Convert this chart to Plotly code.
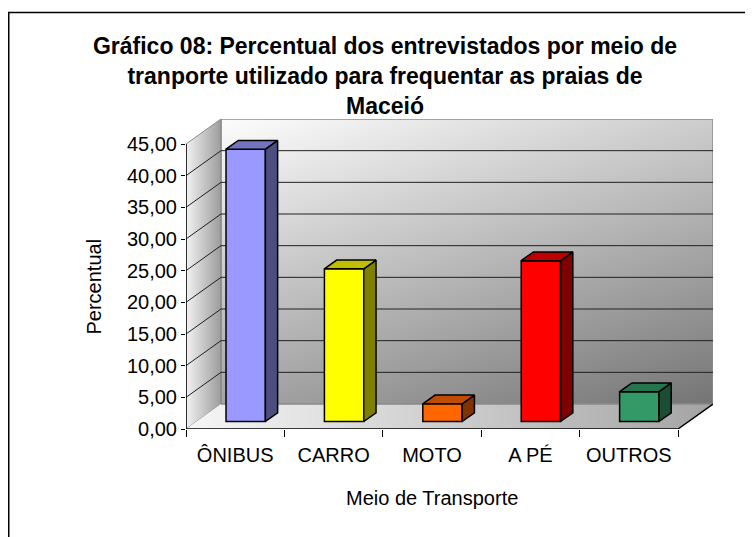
import numpy as np
import plotly.graph_objects as go

# ---------------- data ----------------
categories = ["ÔNIBUS", "CARRO", "MOTO", "A PÉ", "OUTROS"]
percentual = [43.0, 24.1, 2.8, 25.4, 4.7]
front_colors = ["#9999FF", "#FFFF00", "#FF6600", "#FF0000", "#339966"]
side_colors = ["#4D4D80", "#808000", "#803300", "#800000", "#1A4D33"]
top_colors = ["#7373BF", "#BFBF00", "#BF4C00", "#BF0000", "#267350"]
y_ticks = [0, 5, 10, 15, 20, 25, 30, 35, 40, 45]

title_text = ("<b>Gráfico 08: Percentual dos entrevistados por meio de<br>"
              "tranporte utilizado para frequentar as praias de<br>Maceió</b>")
x_title = "Meio de Transporte"
y_title = "Percentual"

# ---------------- geometry (oblique 3D look) ----------------
# figure is placed by the page at an 8px offset, so sizes are reduced accordingly
W, H = 745, 529
ML, MR, MT, MB = 178, 40, 111, 108
plot_w = W - ML - MR
plot_h = H - MT - MB
n = len(categories)
ymax = y_ticks[-1]
DY = 3.947                              # depth offset in value units
DX = 0.3557                             # depth offset in category units
FRONT = 0.30                            # depth of bar front face (0..1)
DEPTH = 0.35                            # bar depth (0..1)
BAR_W = 0.40
x0, x1 = -0.5, n - 0.5
xr = [x0, x1 + DX]
yr = [0, ymax + DY]

FONT = "Liberation Sans, Arial, sans-serif"
fig = go.Figure()

# back wall (diagonal gradient)
nx, ny = 40, 40
xe = np.linspace(x0 + DX, x1 + DX, nx + 1)
ye = np.linspace(DY, ymax + DY, ny + 1)
xc = (xe[:-1] + xe[1:]) / 2
yc = (ye[:-1] + ye[1:]) / 2
XN = (xc - xc.min()) / (xc.max() - xc.min())
YN = (yc - yc.min()) / (yc.max() - yc.min())
Z = 0.65 * (1 - YN[:, None]) + 0.35 * XN[None, :]
fig.add_trace(go.Heatmap(x=xe, y=ye, z=Z, zsmooth="best", showscale=False,
                         colorscale=[[0, "#fbfbfb"], [1, "#767676"]],
                         zmin=0, zmax=1, hoverinfo="skip"))

# left wall
fig.add_trace(go.Scatter(
    x=[x0, x0, x0 + DX, x0 + DX, x0], y=[0, ymax, ymax + DY, DY, 0],
    mode="lines", fill="toself", line=dict(color="#8a8a8a", width=1),
    fillgradient=dict(type="horizontal", colorscale=[[0, "#f2f2f2"], [1, "#9c9c9c"]]),
    hoverinfo="skip"))

# floor
fig.add_trace(go.Scatter(
    x=[x0, x1, x1 + DX, x0 + DX, x0], y=[0, 0, DY, DY, 0],
    mode="lines", fill="toself", line=dict(color="rgba(0,0,0,0)", width=0),
    fillgradient=dict(type="horizontal", colorscale=[[0, "#f6f6f6"], [1, "#a4a4a4"]]),
    hoverinfo="skip"))

# back wall outline
fig.add_trace(go.Scatter(
    x=[x0 + DX, x1 + DX, x1 + DX, x0 + DX, x0 + DX],
    y=[DY, DY, ymax + DY, ymax + DY, DY],
    mode="lines", line=dict(color="#8a8a8a", width=1.5), hoverinfo="skip"))

# gridlines
gx, gy = [], []
for v in y_ticks[1:-1]:
    gx += [x0, x0 + DX, x1 + DX, None]
    gy += [v, v + DY, v + DY, None]
fig.add_trace(go.Scatter(x=gx, y=gy, mode="lines",
                         line=dict(color="#202020", width=1), hoverinfo="skip"))

# front axis line + floor front/right edges
fig.add_trace(go.Scatter(x=[x0, x0, None, x0, x1, x1 + DX],
                         y=[0, ymax, None, 0, 0, DY],
                         mode="lines", line=dict(color="#000000", width=1.5),
                         hoverinfo="skip"))

# ---------------- bars (overlay axes, drawn above walls) ----------------
base = FRONT * DY
centers = [i + FRONT * DX for i in range(n)]
fig.add_trace(go.Bar(x=centers, y=percentual, base=[base] * n, width=BAR_W,
                     marker=dict(color=front_colors, line=dict(color="black", width=1.5)),
                     xaxis="x2", yaxis="y2", hoverinfo="skip"))
for i, v in enumerate(percentual):
    xl = centers[i] - BAR_W / 2
    xrr = centers[i] + BAR_W / 2
    ddx, ddy = DEPTH * DX, DEPTH * DY
    fig.add_trace(go.Scatter(
        x=[xrr, xrr + ddx, xrr + ddx, xrr, xrr],
        y=[base, base + ddy, base + v + ddy, base + v, base],
        mode="lines", fill="toself", fillcolor=side_colors[i],
        line=dict(color="black", width=1.5), xaxis="x2", yaxis="y2", hoverinfo="skip"))
    fig.add_trace(go.Scatter(
        x=[xl, xrr, xrr + ddx, xl + ddx, xl],
        y=[base + v, base + v, base + v + ddy, base + v + ddy, base + v],
        mode="lines", fill="toself", fillcolor=top_colors[i],
        line=dict(color="black", width=1.5), xaxis="x2", yaxis="y2", hoverinfo="skip"))

# ---------------- layout ----------------
fig.update_layout(
    width=W, height=H,
    margin=dict(l=ML, r=MR, t=MT, b=MB),
    paper_bgcolor="white", plot_bgcolor="white",
    showlegend=False,
    separators=", ",
    font=dict(family=FONT, size=20, color="black"),
    title=dict(text=title_text, x=377 / W, xanchor="center", xref="container",
               y=1 - 46 / H, yanchor="top", yref="container",
               font=dict(family=FONT, size=23, color="black")),
    xaxis=dict(range=xr, tickvals=list(range(n)), ticktext=categories,
               ticks="outside", ticklen=8, tickcolor="rgba(0,0,0,0)",
               showline=False, showgrid=False, zeroline=False,
               tickfont=dict(size=20)),
    yaxis=dict(range=yr, tickvals=y_ticks, tickformat=".2f",
               ticks="outside", ticklen=4, tickcolor="black",
               showline=False, showgrid=False, zeroline=False,
               tickfont=dict(size=20)),
    xaxis2=dict(range=xr, overlaying="x", anchor="y2",
                tickvals=[x0 + k for k in range(n + 1)],
                ticks="outside", ticklen=7, tickcolor="black",
                showticklabels=False, showgrid=False, zeroline=False, showline=False),
    yaxis2=dict(range=yr, overlaying="y", anchor="x2", visible=False),
    annotations=[
        dict(text=y_title, textangle=-90, xref="paper", x=0, xshift=-93,
             yref="y", y=ymax / 2, xanchor="center", yanchor="middle",
             showarrow=False, font=dict(size=20)),
        dict(text=x_title, xref="x", x=(x0 + x1) / 2, yref="paper", y=0,
             yshift=-69, xanchor="center", yanchor="middle",
             showarrow=False, font=dict(size=20)),
    ],
    shapes=[dict(type="rect", xref="paper", yref="paper",
                 x0=(0.75 - ML) / plot_w, x1=(W + 10 - ML) / plot_w,
                 y0=-(H + 10 - (H - MB)) / plot_h, y1=((H - MB) - 4.5) / plot_h,
                 line=dict(color="black", width=1.5))],
)

fig.write_html("out.html")
